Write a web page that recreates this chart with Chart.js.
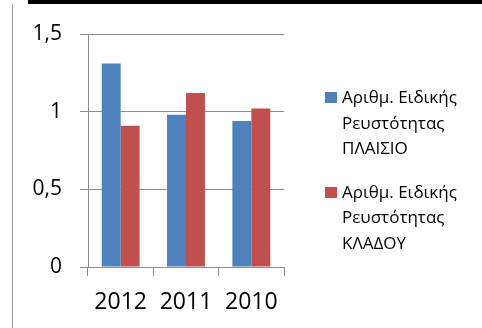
<!DOCTYPE html>
<html>
<head>
<meta charset="utf-8">
<script src="https://cdn.jsdelivr.net/npm/chart.js@4"></script>
<style>
  body { margin: 0; background: #fff; }
  #wrap { position: relative; width: 482px; height: 328px; overflow: hidden; }
  #chart { position: absolute; left: 0; top: 0; }
  #topbar { position: absolute; left: 28px; top: 0; width: 454px; height: 4px; background: #000; }
  #leftline { position: absolute; left: 12px; top: 4px; width: 1px; height: 324px; background: #9a9a9a; }
  #legend { position: absolute; left: 325px; top: 84px; font-family: "Open Sans", sans-serif; font-size: 17px; color: #000; }
  .item { position: relative; padding-left: 17px; line-height: 25.5px; margin-bottom: 18px; }
  .box { position: absolute; left: 0; top: 8px; width: 12px; height: 11px; }
</style>
</head>
<body>
<div id="wrap">
  <canvas id="chart" width="482" height="328"></canvas>
  <div id="topbar"></div>
  <div id="leftline"></div>
  <div id="legend"></div>
</div>
<script>
const years = ['2012', '2011', '2010'];
const seriesNames = [
    ['Αριθμ. Ειδικής', 'Ρευστότητας', 'ΠΛΑΙΣΙΟ'],
    ['Αριθμ. Ειδικής', 'Ρευστότητας', 'ΚΛΑΔΟΥ']
];
const plaisio = [1.31, 0.98, 0.94];
const kladou = [0.91, 1.12, 1.02];
const yTicks = [0, 0.5, 1, 1.5];
const colors = ['#4f81bd', '#c0504d'];

const canvas = document.getElementById('chart');

new Chart(canvas, {
    type: 'bar',
    data: {
        labels: years,
        datasets: [
            { label: seriesNames[0].join(' '), data: plaisio, backgroundColor: colors[0] },
            { label: seriesNames[1].join(' '), data: kladou, backgroundColor: colors[1] }
        ]
    },
    options: {
        responsive: false,
        animation: false,
        devicePixelRatio: 1,
        categoryPercentage: 0.58,
        barPercentage: 1,
        layout: { padding: { left: 0, right: 198, top: 34, bottom: 0 } },
        plugins: {
            legend: { display: false },
            tooltip: { enabled: false }
        },
        scales: {
            x: {
                afterFit: s => { s.height = 61; },
                grid: { drawOnChartArea: false, color: '#8c8c8c', tickLength: 9 },
                border: { color: '#8c8c8c' },
                ticks: { color: '#000', padding: 13, font: { family: 'Open Sans', size: 23 } }
            },
            y: {
                min: 0,
                max: 1.5,
                afterFit: s => { s.width = 88; },
                afterBuildTicks: s => { s.ticks = yTicks.map(v => ({ value: v })); },
                grid: { color: '#8c8c8c', tickLength: 8 },
                border: { color: '#8c8c8c' },
                ticks: {
                    color: '#000',
                    padding: 18,
                    font: { family: 'Open Sans', size: 21 },
                    callback: v => String(v).replace('.', ',')
                }
            }
        }
    }
});

// legend built from the series names
const legend = document.getElementById('legend');
seriesNames.forEach((lines, i) => {
    const item = document.createElement('div');
    item.className = 'item';
    item.innerHTML = '<span class="box" style="background:' + colors[i] + '"></span>' + lines.join('<br>');
    legend.appendChild(item);
});
</script>
</body>
</html>
